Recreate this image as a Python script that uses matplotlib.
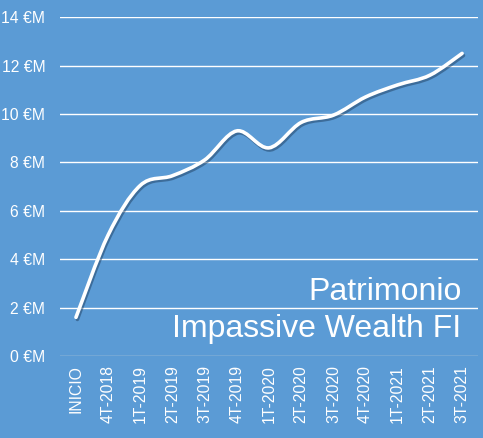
import matplotlib
matplotlib.use('Agg')
from matplotlib import pyplot as plt
from matplotlib.path import Path
from matplotlib.patches import PathPatch
import matplotlib.patheffects as pe

plt.rcParams['font.family'] = ['Liberation Sans', 'DejaVu Sans']

# trimestres y patrimonio (millones de euros)
labels = ['INICIO', '4T-2018', '1T-2019', '2T-2019', '3T-2019', '4T-2019',
          '1T-2020', '2T-2020', '3T-2020', '4T-2020', '1T-2021', '2T-2021',
          '3T-2021']
values = [1.6, 5.0, 7.05, 7.45, 8.1, 9.3, 8.6, 9.65, 9.95, 10.7, 11.2,
          11.6, 12.5]
yticks = [0, 2, 4, 6, 8, 10, 12, 14]

bg = '#5B9BD5'

fig = plt.figure(figsize=(4.83, 4.38), dpi=100, facecolor=bg)
ax = fig.add_axes([0.124, 0.187, 0.866, 0.774], facecolor=bg)

# linea suavizada tipo excel (bezier catmull-rom por los puntos)
xs = list(range(len(values)))
pts = list(zip(xs, values))
verts = [pts[0]]
codes = [Path.MOVETO]
for i in range(len(pts) - 1):
    p0 = pts[i - 1] if i > 0 else pts[i]
    p1 = pts[i]
    p2 = pts[i + 1]
    p3 = pts[i + 2] if i + 2 < len(pts) else pts[i + 1]
    c1 = (p1[0] + (p2[0] - p0[0]) / 6, p1[1] + (p2[1] - p0[1]) / 6)
    c2 = (p2[0] - (p3[0] - p1[0]) / 6, p2[1] - (p3[1] - p1[1]) / 6)
    verts += [c1, c2, p2]
    codes += [Path.CURVE4] * 3

patch = PathPatch(Path(verts, codes), facecolor='none', edgecolor='white',
                  lw=2.6, capstyle='round', zorder=3)
patch.set_path_effects([pe.SimpleLineShadow(offset=(1, -1.5), shadow_color='#1f3f60',
                                            alpha=0.5),
                        pe.Normal()])
ax.add_patch(patch)

ax.set_xlim(-0.5, len(values) - 0.5)
ax.set_ylim(0, 14)
ax.set_yticks(yticks)
ax.set_yticklabels([f'{v} €M' for v in yticks])
ax.set_xticks(xs)
ax.set_xticklabels(labels, rotation=90)
ax.tick_params(colors='white', labelsize=11.3, length=0)
ax.tick_params(axis='y', pad=10.5)
ax.tick_params(axis='x', pad=6.5)
for t in ax.get_xticklabels() + ax.get_yticklabels():
    t.set_color('white')

for v in yticks[1:]:
    ax.axhline(v, color='white', lw=1, zorder=1)
ax.axhline(0, color='#D9D9D9', lw=1, zorder=1)
for s in ax.spines.values():
    s.set_visible(False)

ax.text(0.96, 0.165, 'Patrimonio', transform=ax.transAxes, ha='right',
        va='baseline', color='white', fontsize=23)
ax.text(0.96, 0.055, 'Impassive Wealth FI', transform=ax.transAxes, ha='right',
        va='baseline', color='white', fontsize=23)

fig.savefig('out.png', dpi=100, facecolor=bg)
